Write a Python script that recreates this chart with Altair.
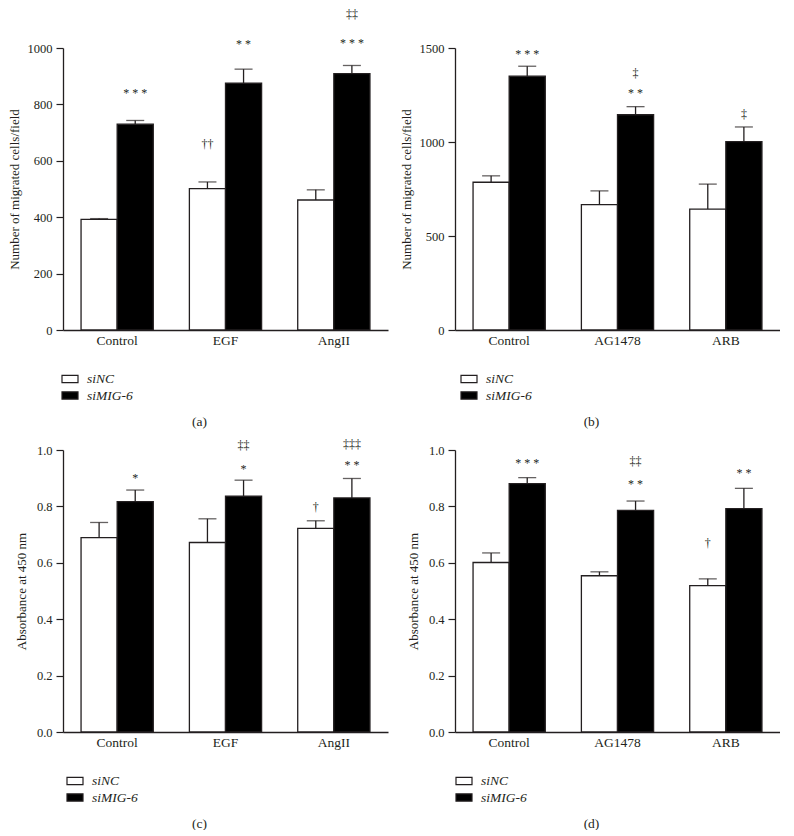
import altair as alt
import pandas as pd

FONT = "Liberation Serif"
INK = "#231f20"
SERIES = ["siNC", "siMIG-6"]

# ---------------- data ----------------
a_groups = ["Control", "EGF", "AngII"]
a_sinc = [392, 501, 461]
a_sinc_top = [395, 525, 497]
a_simig = [730, 875, 909]
a_simig_top = [743, 925, 938]
a_ann_group = ["Control", "EGF", "EGF", "AngII", "AngII"]
a_ann_series = ["siMIG-6", "siNC", "siMIG-6", "siMIG-6", "siMIG-6"]
a_ann_label = ["* * *", "††", "* *", "* * *", "‡‡"]
a_ann_y = [839, 658, 1013, 1018, 1120]

b_groups = ["Control", "AG1478", "ARB"]
b_sinc = [786, 667, 643]
b_sinc_top = [820, 740, 776]
b_simig = [1350, 1145, 1002]
b_simig_top = [1403, 1188, 1080]
b_ann_group = ["Control", "AG1478", "AG1478", "ARB"]
b_ann_series = ["siMIG-6", "siMIG-6", "siMIG-6", "siMIG-6"]
b_ann_label = ["* * *", "* *", "‡", "‡"]
b_ann_y = [1466, 1259, 1369, 1149]

c_groups = ["Control", "EGF", "AngII"]
c_sinc = [0.689, 0.672, 0.722]
c_sinc_top = [0.743, 0.756, 0.749]
c_simig = [0.817, 0.836, 0.830]
c_simig_top = [0.858, 0.893, 0.899]
c_ann_group = ["Control", "EGF", "EGF", "AngII", "AngII", "AngII"]
c_ann_series = ["siMIG-6", "siMIG-6", "siMIG-6", "siNC", "siMIG-6", "siMIG-6"]
c_ann_label = ["*", "*", "‡‡", "†", "* *", "‡‡‡"]
c_ann_y = [0.899, 0.934, 1.019, 0.798, 0.948, 1.020]

d_groups = ["Control", "AG1478", "ARB"]
d_sinc = [0.601, 0.554, 0.519]
d_sinc_top = [0.635, 0.568, 0.543]
d_simig = [0.881, 0.786, 0.792]
d_simig_top = [0.902, 0.819, 0.864]
d_ann_group = ["Control", "AG1478", "AG1478", "ARB", "ARB"]
d_ann_series = ["siMIG-6", "siMIG-6", "siMIG-6", "siNC", "siMIG-6"]
d_ann_label = ["* * *", "* *", "‡‡", "†", "* *"]
d_ann_y = [0.955, 0.880, 0.962, 0.669, 0.918]

W, H = 325, 282


def panel(groups, sinc, sinc_top, simig, simig_top, ag, aser, alab, ay,
          ymax, yticks, yfmt, ytitle, ytitle_x, letter, legend_x):
    rows = []
    for g, v, t in zip(groups, sinc, sinc_top):
        rows.append({"group": g, "series": "siNC", "value": v, "top": t})
    for g, v, t in zip(groups, simig, simig_top):
        rows.append({"group": g, "series": "siMIG-6", "value": v, "top": t})
    df = pd.DataFrame(rows)
    ann = pd.DataFrame({"group": ag, "series": aser, "label": alab, "y": ay})

    x = alt.X("group:N", sort=groups,
              scale=alt.Scale(paddingInner=0, paddingOuter=0),
              axis=alt.Axis(title=letter, labelAngle=0, ticks=False,
                            labelPadding=3, labelFont=FONT, labelFontSize=13.5,
                            labelColor=INK, domainColor=INK, domainWidth=1.3,
                            titleFont=FONT, titleFontSize=13.5,
                            titleFontWeight="normal", titleColor=INK,
                            titleX=136, titleY=91, titleBaseline="middle"))
    xo = alt.XOffset("series:N", sort=SERIES,
                     scale=alt.Scale(paddingInner=0, paddingOuter=0.5))
    yscale = alt.Scale(domain=[0, ymax], nice=False)
    y = alt.Y("value:Q", scale=yscale,
              axis=alt.Axis(values=yticks, format=yfmt, title=ytitle, grid=False,
                            tickSize=7, tickColor=INK, tickWidth=1.2,
                            labelPadding=4, labelFont=FONT, labelFontSize=12.5,
                            labelColor=INK, domainColor=INK, domainWidth=1.3,
                            titleFont=FONT, titleFontSize=13,
                            titleFontWeight="normal", titleColor=INK,
                            titleX=ytitle_x, titleBaseline="middle"))

    bars = alt.Chart(df).mark_bar(stroke=INK, strokeWidth=1.3).encode(
        x=x, xOffset=xo, y=y,
        fill=alt.Fill("series:N", sort=SERIES,
                      scale=alt.Scale(domain=SERIES, range=["white", "black"]),
                      legend=alt.Legend(title=None, orient="none", legendX=legend_x,
                                        legendY=H + 40, direction="vertical",
                                        symbolType="M-1,-0.45H1V0.45H-1Z",
                                        symbolSize=256, symbolStrokeColor=INK,
                                        symbolStrokeWidth=1.2, labelFont=FONT,
                                        labelFontStyle="italic", labelFontSize=13.5,
                                        labelColor=INK, labelOffset=8,
                                        rowPadding=0.5, padding=0)))
    err = alt.Chart(df).mark_rule(color=INK, strokeWidth=1.3).encode(
        x=x, xOffset=xo, y=alt.Y("value:Q", scale=yscale), y2="top:Q")
    cap = alt.Chart(df).mark_tick(color=INK, thickness=1.3, size=18).encode(
        x=x, xOffset=xo, y=alt.Y("top:Q", scale=yscale))
    txt = alt.Chart(ann).mark_text(font=FONT, fontSize=12, color=INK, fill=INK,
                                   baseline="middle").encode(
        x=x, xOffset=xo, y=alt.Y("y:Q", scale=yscale), text="label:N")
    return alt.layer(bars, err, cap, txt).properties(width=W, height=H)


pa = panel(a_groups, a_sinc, a_sinc_top, a_simig, a_simig_top,
           a_ann_group, a_ann_series, a_ann_label, a_ann_y,
           1000, [0, 200, 400, 600, 800, 1000], "d",
           "Number of migrated cells/field", -49, "(a)", -2)
pb = panel(b_groups, b_sinc, b_sinc_top, b_simig, b_simig_top,
           b_ann_group, b_ann_series, b_ann_label, b_ann_y,
           1500, [0, 500, 1000, 1500], "d",
           "Number of migrated cells/field", -49, "(b)", 5)
pc = panel(c_groups, c_sinc, c_sinc_top, c_simig, c_simig_top,
           c_ann_group, c_ann_series, c_ann_label, c_ann_y,
           1.0, [0, 0.2, 0.4, 0.6, 0.8, 1.0], ".1f",
           "Absorbance at 450 nm", -42, "(c)", 3)
pd_ = panel(d_groups, d_sinc, d_sinc_top, d_simig, d_simig_top,
            d_ann_group, d_ann_series, d_ann_label, d_ann_y,
            1.0, [0, 0.2, 0.4, 0.6, 0.8, 1.0], ".1f",
            "Absorbance at 450 nm", -42, "(d)", 0)

chart = alt.concat(pa, pb, pc, pd_, columns=2,
                   spacing={"row": 120, "column": 67}, bounds="flush").resolve_scale(
    x="independent", y="independent", xOffset="independent", fill="independent"
).resolve_legend(fill="independent").properties(padding=0).configure_view(stroke=None)

chart.save("out.html", embed_options={"renderer": "svg", "actions": False})
